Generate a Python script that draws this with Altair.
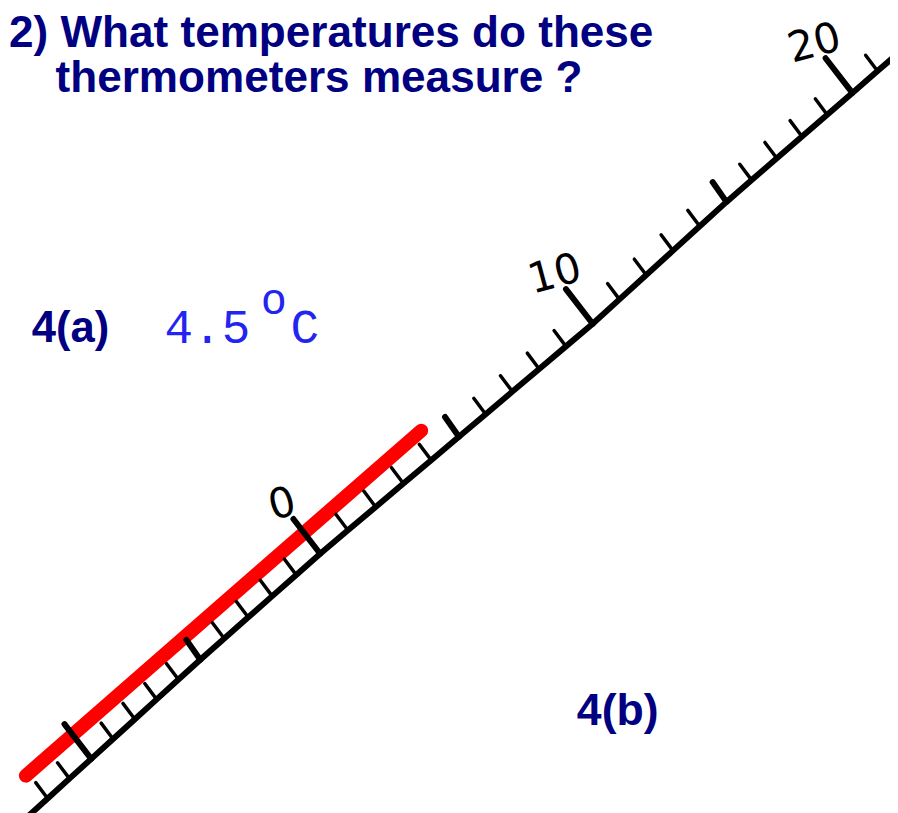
import altair as alt
import pandas as pd

# ---- data -------------------------------------------------------------
TICK_VALUES = [-12, -11, -10, -9, -8, -7, -6, -5, -4, -3, -2, -1, 0, 1, 2, 3,
               4, 5, 6, 7, 8, 9, 10, 11, 12, 13, 14, 15, 16, 17, 18, 19, 20, 21]
LONG_TICKS = [-10, 0, 10, 20]
MID_TICKS = [-5, 5, 15]
LABEL_VALUES = [0, 10, 20]
LABEL_TEXT = ["0", "10", "20"]
SCALE_ENDS = [-12.9, 22.5]
MERCURY_FROM = [-12.0]
MERCURY_TO = [4.5]

TITLE_1 = "2) What temperatures do these"
TITLE_2 = "thermometers measure ?"
PART_A = "4(a)"
ANSWER_NUM = "4.5"
ANSWER_DEG = "o"
ANSWER_UNIT = "C"
PART_B = "4(b)"

# ---- scale geometry (hand drawn, piecewise) ---------------------------
BREAKS = [-10, -5, 0, 5, 10, 15, 20]
X_RANGE = [84, 194, 315, 455, 590, 725, 852]
Y_RANGE = [754, 654, 547, 429, 315, 192, 82]

xs = alt.Scale(domain=BREAKS, range=X_RANGE, zero=False, nice=False)
ys = alt.Scale(domain=BREAKS, range=Y_RANGE, zero=False, nice=False)
X = alt.X("t:Q", scale=xs, axis=None)
Y = alt.Y("t:Q", scale=ys, axis=None)

minor = [v for v in TICK_VALUES if v not in LONG_TICKS and v not in MID_TICKS]
line_df = pd.DataFrame({"t": sorted(SCALE_ENDS + TICK_VALUES)})
minor_df = pd.DataFrame({"t": minor})
mid_df = pd.DataFrame({"t": MID_TICKS})
long_df = pd.DataFrame({"t": LONG_TICKS})
label_df = pd.DataFrame({"t": LABEL_VALUES, "label": LABEL_TEXT})
merc_df = pd.DataFrame({"t": MERCURY_FROM, "t2": MERCURY_TO})

NAVY = "#000080"
BLUE = "#2424f0"

mercury = alt.Chart(merc_df).mark_rule(
    color="#ff0000", strokeWidth=14, strokeCap="round",
    xOffset=-22, yOffset=-23, x2Offset=-24, y2Offset=-18,
).encode(x=X, y=Y, x2=alt.X2("t2"), y2=alt.Y2("t2"))

scale_line = alt.Chart(line_df).mark_line(
    color="black", strokeWidth=6, strokeCap="round"
).encode(x=X, y=Y, order="t:Q")

minor_ticks = alt.Chart(minor_df).mark_rule(
    color="black", strokeWidth=3.5, strokeCap="round", x2Offset=-12, y2Offset=-16
).encode(x=X, y=Y, x2=alt.X2("t"), y2=alt.Y2("t"))

mid_ticks = alt.Chart(mid_df).mark_rule(
    color="black", strokeWidth=6, strokeCap="round", x2Offset=-14, y2Offset=-20
).encode(x=X, y=Y, x2=alt.X2("t"), y2=alt.Y2("t"))

long_ticks = alt.Chart(long_df).mark_rule(
    color="black", strokeWidth=6, strokeCap="round", x2Offset=-27, y2Offset=-35
).encode(x=X, y=Y, x2=alt.X2("t"), y2=alt.Y2("t"))

# dx/dy are applied in the rotated text frame
labels = alt.Chart(label_df).mark_text(
    font="DejaVu Sans", fontSize=42, color="black", align="center",
    baseline="middle", dx=-24, dy=-58, angle=345
).encode(x=X, y=Y, text="label:N")


def note(text, x, y, size, color, font, weight="bold"):
    return alt.Chart(pd.DataFrame({"label": [text]})).mark_text(
        align="left", baseline="alphabetic", font=font, fontSize=size,
        fontWeight=weight, color=color
    ).encode(x=alt.value(x), y=alt.value(y), text="label:N")


notes = [
    note(TITLE_1, 1, 36, 44.5, NAVY, "Liberation Sans"),
    note(TITLE_2, 48, 81, 44.5, NAVY, "Liberation Sans"),
    note(PART_A, 24, 333, 44, NAVY, "Liberation Sans"),
    note(ANSWER_NUM, 158, 334, 48, BLUE, "Liberation Mono", "normal"),
    note(ANSWER_DEG, 255, 305, 44, BLUE, "Liberation Mono", "normal"),
    note(ANSWER_UNIT, 285, 334, 48, BLUE, "Liberation Mono", "normal"),
    note(PART_B, 574, 720, 45, NAVY, "Liberation Sans"),
]

chart = alt.layer(
    mercury, scale_line, minor_ticks, mid_ticks, long_ticks, labels, *notes
).properties(
    width=890, height=805, padding=0,
    autosize=alt.AutoSizeParams(type="none"),
    background="white",
).configure_view(stroke=None)

chart.save("out.html", embed_options={"renderer": "svg", "actions": False})
